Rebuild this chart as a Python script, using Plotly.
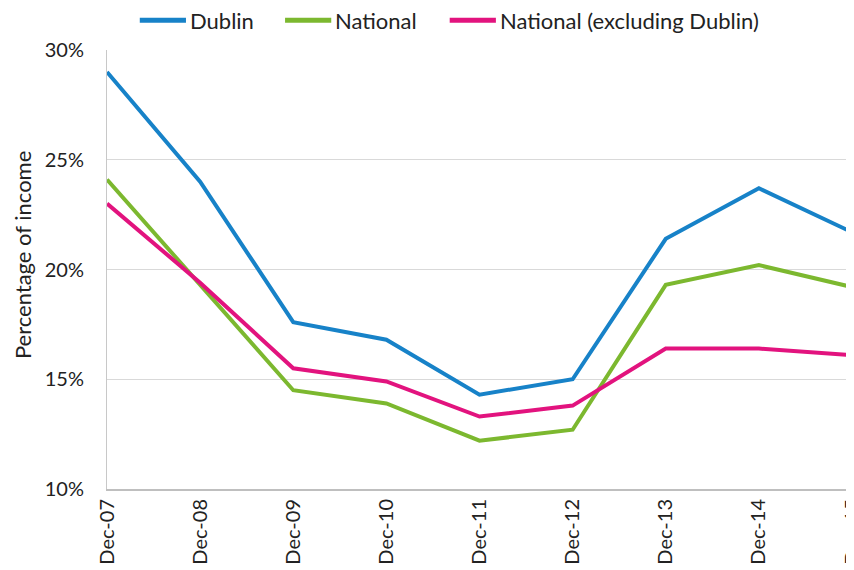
import plotly.graph_objects as go

# years on the x axis
periods = ["Dec-07", "Dec-08", "Dec-09", "Dec-10", "Dec-11",
           "Dec-12", "Dec-13", "Dec-14", "Dec-15"]

# percentage of income
dublin = [29.0, 24.0, 17.6, 16.8, 14.3, 15.0, 21.4, 23.7, 21.7]
national = [24.1, 19.3, 14.5, 13.9, 12.2, 12.7, 19.3, 20.2, 19.2]
national_ex_dublin = [23.0, 19.4, 15.5, 14.9, 13.3, 13.8, 16.4, 16.4, 16.1]

series = [
    ("Dublin", dublin, "#1782c8"),
    ("National", national, "#7cb82f"),
    ("National (excluding Dublin)", national_ex_dublin, "#e2137e"),
]

FONT = "Lato, Open Sans, sans-serif"

fig = go.Figure()
x_idx = list(range(len(periods)))
for name, vals, color in series:
    fig.add_trace(
        go.Scatter(
            x=x_idx,
            y=vals,
            mode="lines",
            name=name,
            showlegend=False,
            line=dict(color=color, width=4),
        )
    )

# hand-made legend across the top (key starts, in paper coords)
legend_x = [0.044, 0.239, 0.460]
key_len = 0.062
legend_y = 1.068
for (name, _, color), x0 in zip(series, legend_x):
    fig.add_shape(
        type="line",
        xref="paper", yref="paper",
        x0=x0, x1=x0 + key_len, y0=legend_y, y1=legend_y,
        line=dict(color=color, width=5),
    )
    fig.add_annotation(
        xref="paper", yref="paper",
        x=x0 + key_len + 0.003, y=legend_y,
        xanchor="left", yanchor="middle",
        text=name, showarrow=False,
        font=dict(size=22),
    )

# y title as an annotation so it sits a little above the plot centre
fig.add_annotation(
    xref="paper", yref="paper",
    x=-0.114, y=0.533,
    xanchor="center", yanchor="middle",
    text="Percentage of income", textangle=-90,
    showarrow=False, font=dict(size=22),
)

# page body has an 8px margin, so the figure is a bit smaller than the window
fig.update_layout(
    width=846,
    height=562,
    margin=dict(l=99, r=2, t=42, b=81, autoexpand=False),
    paper_bgcolor="white",
    plot_bgcolor="white",
    font=dict(family=FONT, size=19, color="#222222"),
    showlegend=False,
)

fig.update_xaxes(
    range=[0, len(periods) - 1],
    tickvals=x_idx,
    ticktext=periods,
    tickangle=-90,
    showgrid=False,
    zeroline=False,
    showline=True,
    linecolor="#bfbfbf",
    linewidth=2,
    tickfont=dict(size=20),
    ticks="",
    ticklabeloverflow="allow",
    automargin=False,
)

fig.update_yaxes(
    range=[10, 30],
    tickvals=[10, 15, 20, 25, 30],
    ticktext=["10%", "15%", "20%", "25%", "30%"],
    showgrid=True,
    gridcolor="#d9d9d9",
    gridwidth=1,
    zeroline=False,
    showline=True,
    mirror=True,
    linecolor="#c8c8c8",
    linewidth=1,
    ticks="",
    ticklabelstandoff=18,
    tickfont=dict(size=20),
    automargin=False,
)

fig.write_html("out.html")
